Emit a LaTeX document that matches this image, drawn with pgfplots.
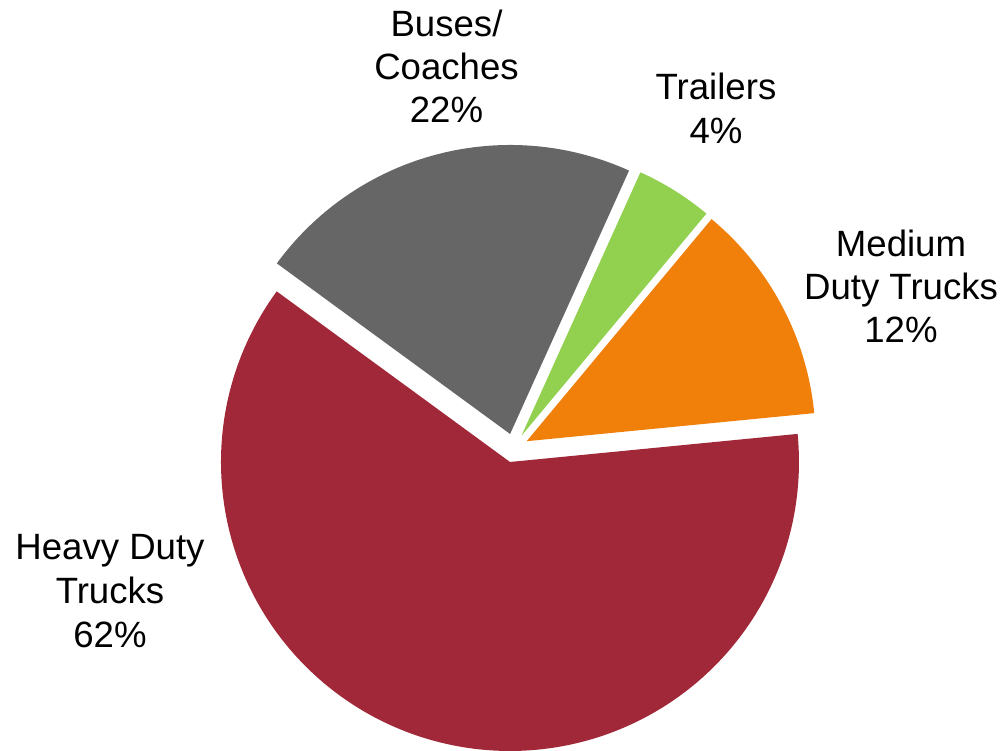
\documentclass[border=0pt]{standalone}
\usepackage{pgfplots}
\pgfplotsset{compat=1.18}
\usepackage{pgfplotstable}
\usepackage{fontspec}
\setmainfont{Liberation Sans}
\definecolor{heavyred}{RGB}{161,40,56}
\definecolor{busgray}{RGB}{102,102,102}
\definecolor{trailgreen}{RGB}{146,208,80}
\definecolor{medorange}{RGB}{240,128,10}

\pgfplotstableread{
name pct
Trailers 4.3
Medium 12.4
Heavy 61.6
Buses 21.7
}\piedata

\begin{document}
\begin{tikzpicture}
\pgfplotstablegetelem{0}{pct}\of\piedata \let\pA\pgfplotsretval
\pgfplotstablegetelem{1}{pct}\of\piedata \let\pB\pgfplotsretval
\pgfplotstablegetelem{2}{pct}\of\piedata \let\pC\pgfplotsretval
\pgfplotstablegetelem{3}{pct}\of\piedata \let\pD\pgfplotsretval
% angles (math convention, clockwise order)
\pgfmathsetmacro\sA{90-24.3}
\pgfmathsetmacro\eA{\sA-3.6*\pA}
\pgfmathsetmacro\eB{\eA-3.6*\pB}
\pgfmathsetmacro\eC{\eB-3.6*\pC}
\pgfmathsetmacro\eD{\eC-3.6*\pD}
\pgfmathsetmacro\mA{(\sA+\eA)/2}
\pgfmathsetmacro\mB{(\eA+\eB)/2}
\pgfmathsetmacro\mC{(\eB+\eC)/2}
\pgfmathsetmacro\mD{(\eC+\eD)/2}
\def\R{289}
\def\ex{14.5}
\pgfmathsetmacro\xA{513.8+\ex*cos(\mA)}\pgfmathsetmacro\yA{302+\ex*sin(\mA)}
\pgfmathsetmacro\xB{513.8+\ex*cos(\mB)}\pgfmathsetmacro\yB{302+\ex*sin(\mB)}
\pgfmathsetmacro\xC{513.8+\ex*cos(\mC)}\pgfmathsetmacro\yC{302+\ex*sin(\mC)}
\pgfmathsetmacro\xD{513.8+\ex*cos(\mD)}\pgfmathsetmacro\yD{302+\ex*sin(\mD)}
\useasboundingbox (0,0) rectangle (502pt,375pt);
\begin{axis}[at={(0,0)}, anchor=south west, scale only axis,
  width=502pt, height=375pt, xmin=0, xmax=1004, ymin=0, ymax=750,
  hide axis, clip=false]
\addplot[fill=trailgreen, draw=none, domain=\eA:\sA, samples=40, variable=\t]
  ({\xA+\R*cos(\t)}, {\yA+\R*sin(\t)}) -- (axis cs:\xA,\yA) -- cycle;
\addplot[fill=medorange, draw=none, domain=\eB:\eA, samples=80, variable=\t]
  ({\xB+\R*cos(\t)}, {\yB+\R*sin(\t)}) -- (axis cs:\xB,\yB) -- cycle;
\addplot[fill=heavyred, draw=none, domain=\eC:\eB, samples=240, variable=\t]
  ({\xC+\R*cos(\t)}, {\yC+\R*sin(\t)}) -- (axis cs:\xC,\yC) -- cycle;
\addplot[fill=busgray, draw=none, domain=\eD:\eC, samples=120, variable=\t]
  ({\xD+\R*cos(\t)}, {\yD+\R*sin(\t)}) -- (axis cs:\xD,\yD) -- cycle;
\tikzset{lbl/.style={anchor=base, inner sep=0pt, font=\fontsize{18.3}{22}\selectfont}}
% Buses
\node[lbl] at (axis cs:446.5,713.3) {Buses/};
\node[lbl] at (axis cs:446.5,670) {Coaches};
\node[lbl] at (axis cs:446.5,627.3) {22\%};
% Trailers
\node[lbl] at (axis cs:716,650) {Trailers};
\node[lbl] at (axis cs:716,606.7) {4\%};
% Medium
\node[lbl] at (axis cs:901,493.3) {Medium};
\node[lbl] at (axis cs:901,450.5) {Duty Trucks};
\node[lbl] at (axis cs:901,407.3) {12\%};
% Heavy
\node[lbl] at (axis cs:110,190.7) {Heavy Duty};
\node[lbl] at (axis cs:110,146.7) {Trucks};
\node[lbl] at (axis cs:110,103) {62\%};
\end{axis}
\end{tikzpicture}
\end{document}
